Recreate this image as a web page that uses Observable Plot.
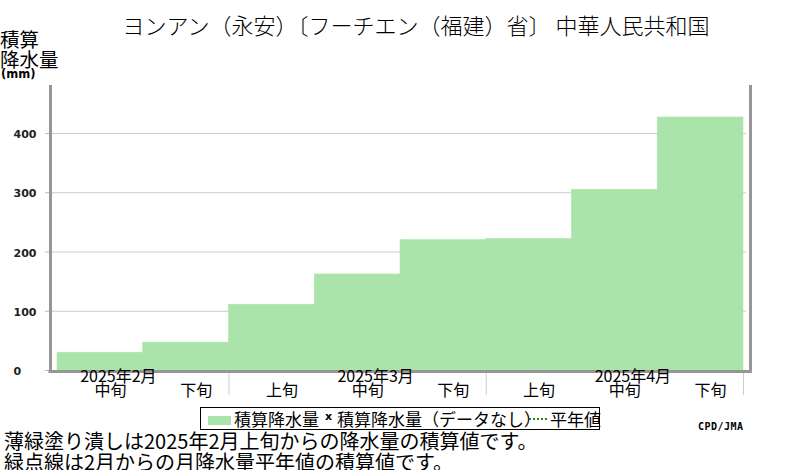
<!DOCTYPE html>
<html><head><meta charset="utf-8">
<script src="https://cdn.jsdelivr.net/npm/d3@7"></script>
<script src="https://cdn.jsdelivr.net/npm/@observablehq/plot@0.6"></script>
<style>
body{margin:0;background:#fff;}
#wrap{position:relative;width:800px;height:470px;overflow:hidden;font-family:"Noto Sans CJK JP",sans-serif;color:#000;background:#fff;}
#chart{position:absolute;left:0;top:0;}
.abs{position:absolute;white-space:nowrap;line-height:1;}
</style></head>
<body><div id="wrap">
<div id="chart"></div>
<div class="abs" id="title" style="left:0;width:832px;text-align:center;top:13px;font-size:22px;font-weight:300;"></div>
<div class="abs" id="ylab1" style="left:0;top:29px;font-size:19.5px;"></div>
<div class="abs" id="ylab2" style="left:0;top:49px;font-size:19.5px;"></div>
<div class="abs" id="ylab3" style="left:1px;top:69px;font-size:11.5px;font-weight:bold;font-family:'DejaVu Sans',sans-serif;"></div>
<div class="abs" id="legend" style="left:200px;top:407px;width:400px;height:23px;box-sizing:border-box;border:1.5px solid #000;"></div>
<div class="abs" id="credit" style="left:698px;top:422px;font-size:10px;font-weight:bold;font-family:'DejaVu Sans Mono',monospace;letter-spacing:0.5px;"></div>
<div class="abs" id="note1" style="left:4px;top:431px;font-size:20px;"></div>
<div class="abs" id="note2" style="left:4px;top:452px;font-size:20px;"></div>
</div>
<script>
// ---- data ----
const titleText = "ヨンアン（永安）〔フーチエン（福建）省〕 中華人民共和国";
const yLabelLines = ["積算", "降水量", "(mm)"];
const decadeLabels = ["中旬", "下旬", "上旬", "中旬", "下旬", "上旬", "中旬", "下旬"];
const cumulativePrecip = [30, 47, 111, 162, 220, 222, 305, 427];
const monthLabels = ["2025年2月", "2025年3月", "2025年4月"];
const monthLabelIndex = [0, 3, 6];
const monthBoundaries = [2, 5, 8];
const yTicks = [0, 100, 200, 300, 400];
const gridTicks = [100, 200, 300, 400];
const legendItems = ["積算降水量", "積算降水量（データなし）", "平年値"];
const noteLines = ["薄緑塗り潰しは2025年2月上旬からの降水量の積算値です。", "緑点線は2月からの月降水量平年値の積算値です。"];
const creditText = "CPD/JMA";

// ---- build ----
const bars = cumulativePrecip.map((v, i) => ({i, v, label: decadeLabels[i]}));
const months = monthLabels.map((m, k) => ({m, i: monthLabelIndex[k]}));
const xDomain = [-0.082, 8.082];
const axisGray = "#969696";
const barGreen = "#abe4aa";
const cjk = "Noto Sans CJK JP";

const chart = Plot.plot({
  width: 800,
  height: 470,
  marginTop: 85,
  marginBottom: 100,
  marginLeft: 50,
  marginRight: 50,
  style: {background: "transparent", overflow: "visible"},
  x: {type: "linear", domain: xDomain, axis: null},
  y: {domain: [0, 481], axis: null},
  marks: [
    Plot.ruleY(gridTicks, {stroke: "#cccccc", strokeWidth: 1.2, insetLeft: 2, insetRight: 4}),
    Plot.rectY(bars, {x1: d => d.i, x2: d => d.i + 1, y1: 0, y2: "v", fill: barGreen, stroke: barGreen, strokeWidth: 0.6, inset: 0}),
    Plot.ruleY(yTicks, {stroke: "#bbbbbb", insetLeft: -5, insetRight: 700}),
    Plot.ruleX(xDomain, {stroke: axisGray, strokeWidth: 3, insetBottom: -2.5}),
    Plot.ruleY([0], {stroke: axisGray, strokeWidth: 3, dy: 1, insetLeft: -1.5, insetRight: -1.5}),
    Plot.ruleX(monthBoundaries, {stroke: "#cccccc", insetTop: 288, insetBottom: -25}),
    Plot.text(yTicks, {y: d => d, text: d => String(d), frameAnchor: "left", textAnchor: "start", dx: -37, dy: 1,
      fontWeight: "bold", fontSize: 11, fontFamily: "DejaVu Sans", letterSpacing: 1, fill: "#222"}),
    Plot.text(bars, {x: d => d.i + 0.5, text: "label", frameAnchor: "bottom", dx: 10, dy: 25,
      fontSize: 16, fontFamily: cjk, fill: "#000"}),
    Plot.text(months, {x: d => d.i + 0.5, text: "m", frameAnchor: "bottom", dx: 18, dy: 11,
      fontSize: 16, fontFamily: cjk, fill: "#000"})
  ]
});
document.getElementById("chart").appendChild(chart);

document.getElementById("title").textContent = titleText;
document.getElementById("ylab1").textContent = yLabelLines[0];
document.getElementById("ylab2").textContent = yLabelLines[1];
document.getElementById("ylab3").textContent = yLabelLines[2];
document.getElementById("note1").textContent = noteLines[0];
document.getElementById("note2").textContent = noteLines[1];
document.getElementById("credit").textContent = creditText;

const lg = document.getElementById("legend");
lg.innerHTML = `
<div class="abs" style="left:6.5px;top:8px;width:23px;height:9px;background:${barGreen};"></div>
<div class="abs" style="left:33px;top:2px;font-size:17px;">${legendItems[0]}</div>
<div class="abs" style="left:124px;top:3px;font-size:11px;font-weight:bold;font-family:'DejaVu Sans',sans-serif;">x</div>
<div class="abs" style="left:136px;top:2px;font-size:17px;">${legendItems[1]}</div>
<svg class="abs" style="left:328px;top:8px;" width="18" height="6"><line x1="0" y1="3" x2="18" y2="3" stroke="#1a8a1a" stroke-width="2" stroke-dasharray="2,2"/></svg>
<div class="abs" style="left:349px;top:2px;font-size:17px;">${legendItems[2]}</div>`;
</script>
</body></html>
